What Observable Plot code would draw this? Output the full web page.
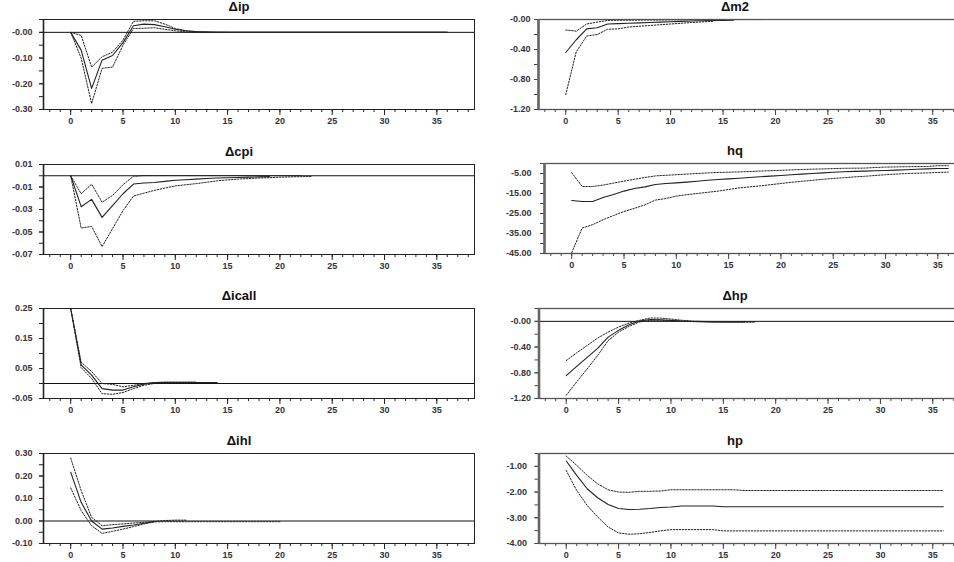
<!DOCTYPE html>
<html><head><meta charset="utf-8">
<script src="https://cdn.jsdelivr.net/npm/d3@7"></script>
<script src="https://cdn.jsdelivr.net/npm/@observablehq/plot@0.6"></script>
<style>
body{margin:0;background:#fff;}
#chart{position:relative;width:954px;height:562px;overflow:hidden;font-family:"Liberation Sans",Arial,sans-serif;background:#fff;}
.title{position:absolute;width:240px;text-align:center;font-weight:bold;font-size:13px;line-height:14px;color:#111;}
.panel{position:absolute;}
</style></head><body><div id="chart"></div><script>
// horizon axis
const xDomain = [-2.6, 38.6];
const xMajorTicks = [0, 5, 10, 15, 20, 25, 30, 35];
const xMinorTicks = d3.range(-2, 39);

// Δip
const ipMain = [0.000,-0.069,-0.218,-0.108,-0.090,-0.040,0.026,0.032,0.030,0.022,0.012,0.006,0.003,0.002,0.001,0.001,0.001,0.001,0.001,0.001,0.001,0.001,0.001,0.001,0.001,0.001,0.001,0.001,0.001,0.001,0.001,0.001,0.001,0.001,0.001,0.001,0.001];
const ipUpper = [0.000,-0.012,-0.135,-0.095,-0.077,-0.030,0.043,0.045,0.045,0.032,0.015,0.006,0.002,0.000,0.000,0.000];
const ipLower = [0.000,-0.100,-0.277,-0.140,-0.135,-0.050,0.015,0.016,0.018,0.012,0.006,0.002,0.000,0.000];
const ipYTicks = [-0.30,-0.25,-0.20,-0.15,-0.10,-0.05,0.00,0.05];
const ipLabelVals = [-0.30,-0.20,-0.10,0.00];
const ipLabelText = ["-0.30","-0.20","-0.10","-0.00"];

// Δm2
const m2Main = [-0.44,-0.27,-0.125,-0.11,-0.06,-0.055,-0.05,-0.045,-0.04,-0.035,-0.03,-0.025,-0.02,-0.017,-0.014,-0.012,-0.010];
const m2Upper = [-0.14,-0.155,-0.06,-0.035,-0.013,-0.01,-0.009,-0.008,-0.007,-0.006,-0.005,-0.004,-0.003,-0.003,-0.002,-0.002,-0.001,-0.001,-0.001,-0.001];
const m2Lower = [-1.00,-0.43,-0.22,-0.20,-0.13,-0.125,-0.10,-0.09,-0.08,-0.07,-0.06,-0.05,-0.04,-0.032,-0.025];
const m2YTicks = [-1.2,-1.0,-0.8,-0.6,-0.4,-0.2,0.0];
const m2LabelVals = [-1.2,-0.8,-0.4,0.0];
const m2LabelText = ["-1.20","-0.80","-0.40","-0.00"];

// Δcpi
const cpiMain = [0,-0.0275,-0.021,-0.037,-0.0265,-0.016,-0.0074,-0.0065,-0.006,-0.005,-0.004,-0.0035,-0.003,-0.0025,-0.002,-0.0018,-0.0015,-0.0012,-0.001,-0.0008];
const cpiUpper = [0,-0.016,-0.0075,-0.0235,-0.0175,-0.008,-0.0005,0.0002,0.0002,0.0002,0.0002,0.0002,0.0002,0.0002,0.0002,0.0002,0.0002,0.0002,0.0002,0.0001,0.0001,0.0001,0.0001];
const cpiLower = [0,-0.0465,-0.045,-0.063,-0.047,-0.031,-0.018,-0.0155,-0.013,-0.011,-0.009,-0.008,-0.007,-0.0058,-0.0045,-0.0037,-0.003,-0.0025,-0.002,-0.0017,-0.0013,-0.001,-0.0008,-0.0006];
const cpiYTicks = [-0.07,-0.06,-0.05,-0.04,-0.03,-0.02,-0.01,0.00,0.01];
const cpiLabelVals = [-0.07,-0.05,-0.03,-0.01,0.01];
const cpiLabelText = ["-0.07","-0.05","-0.03","-0.01","0.01"];

// hq
const hqMain = [-18.5,-19.0,-19.0,-17.0,-15.5,-13.8,-12.5,-11.7,-10.5,-10.0,-9.7,-9.3,-8.9,-8.4,-8.0,-7.7,-7.4,-7.0,-6.6,-6.3,-6.0,-5.6,-5.3,-5.0,-4.7,-4.4,-4.1,-3.95,-3.8,-3.65,-3.5,-3.3,-3.1,-2.9,-2.7,-2.5,-2.5];
const hqUpper = [-4.6,-11.5,-11.5,-10.8,-9.8,-8.8,-7.9,-7.0,-6.2,-5.9,-5.6,-5.3,-5.0,-4.7,-4.5,-4.35,-4.2,-4.0,-3.8,-3.6,-3.4,-3.2,-3.0,-2.85,-2.7,-2.55,-2.4,-2.35,-2.3,-2.0,-1.8,-1.7,-1.6,-1.55,-1.5,-1.1,-1.1];
const hqLower = [-44.6,-32.3,-30.6,-28.1,-26.0,-24.0,-22.4,-20.7,-18.3,-17.5,-16.3,-15.6,-15.0,-14.4,-13.8,-13.0,-12.2,-11.7,-11.2,-10.6,-10.0,-9.4,-8.9,-8.4,-7.9,-7.5,-7.1,-6.7,-6.4,-6.0,-5.6,-5.3,-5.0,-4.85,-4.7,-4.5,-4.3];
const hqYTicks = [-45,-40,-35,-30,-25,-20,-15,-10,-5,0];
const hqLabelVals = [-45,-35,-25,-15,-5];
const hqLabelText = ["-45.00","-35.00","-25.00","-15.00","-5.00"];

// Δicall
const icallMain = [0.25,0.062,0.028,-0.017,-0.022,-0.022,-0.011,-0.002,0.003,0.003,0.003,0.003,0.003,0.003,0.003];
const icallUpper = [0.25,0.071,0.040,0.000,-0.003,-0.011,-0.006,0.000,0.003,0.005,0.005,0.005,0.005];
const icallLower = [0.25,0.053,0.017,-0.034,-0.036,-0.030,-0.017,-0.006,0.000,0.002,0.003,0.003,0.003];
const icallYTicks = [-0.05,0.00,0.05,0.10,0.15,0.20,0.25];
const icallLabelVals = [-0.05,0.05,0.15,0.25];
const icallLabelText = ["-0.05","0.05","0.15","0.25"];

// Δhp
const hpdMain = [-0.845,-0.70,-0.56,-0.42,-0.245,-0.14,-0.052,0.005,0.030,0.026,0.016,0.005,-0.002,-0.006,-0.010,-0.010,-0.010,-0.010];
const hpdUpper = [-0.61,-0.49,-0.375,-0.26,-0.167,-0.089,-0.026,0.016,0.052,0.050,0.036,0.018,0.005,0.000,-0.003,-0.005,-0.006,-0.006,-0.006];
const hpdLower = [-1.15,-0.94,-0.74,-0.53,-0.30,-0.167,-0.078,-0.010,0.016,0.016,0.010,0.003,-0.003,-0.006,-0.010,-0.012,-0.012,-0.012,-0.012];
const hpdYTicks = [-1.2,-1.0,-0.8,-0.6,-0.4,-0.2,0.0,0.2];
const hpdLabelVals = [-1.2,-0.8,-0.4,0.0];
const hpdLabelText = ["-1.20","-0.80","-0.40","-0.00"];

// Δihl
const ihlMain = [0.217,0.083,0.000,-0.036,-0.031,-0.024,-0.018,-0.010,-0.003];
const ihlUpper = [0.280,0.135,0.016,-0.021,-0.016,-0.013,-0.009,-0.006,-0.002,0.002,0.004,0.004];
const ihlLower = [0.147,0.046,-0.021,-0.055,-0.046,-0.036,-0.025,-0.013,-0.004,-0.003,-0.003,-0.003,-0.003,-0.003,-0.003,-0.003,-0.003,-0.003,-0.003,-0.003,-0.003];
const ihlYTicks = [-0.10,-0.05,0.00,0.05,0.10,0.15,0.20,0.25,0.30];
const ihlLabelVals = [-0.10,0.00,0.10,0.20,0.30];
const ihlLabelText = ["-0.10","0.00","0.10","0.20","0.30"];

// hp
const hpMain = [-0.79,-1.35,-1.87,-2.22,-2.48,-2.64,-2.68,-2.67,-2.64,-2.60,-2.58,-2.54,-2.54,-2.54,-2.54,-2.57,-2.57,-2.57,-2.57,-2.57,-2.57,-2.57,-2.57,-2.57,-2.57,-2.57,-2.57,-2.57,-2.57,-2.57,-2.57,-2.57,-2.57,-2.57,-2.57,-2.57,-2.57];
const hpUpper = [-0.60,-0.96,-1.35,-1.68,-1.91,-2.00,-2.01,-1.97,-1.97,-1.96,-1.91,-1.91,-1.91,-1.91,-1.91,-1.91,-1.91,-1.94,-1.94,-1.94,-1.94,-1.94,-1.94,-1.94,-1.94,-1.94,-1.94,-1.94,-1.94,-1.94,-1.94,-1.94,-1.94,-1.94,-1.94,-1.94,-1.94];
const hpLower = [-1.16,-1.94,-2.52,-2.97,-3.36,-3.59,-3.64,-3.62,-3.57,-3.51,-3.46,-3.46,-3.46,-3.46,-3.46,-3.51,-3.51,-3.51,-3.51,-3.51,-3.51,-3.51,-3.51,-3.51,-3.51,-3.51,-3.51,-3.51,-3.51,-3.51,-3.51,-3.51,-3.51,-3.51,-3.51,-3.51,-3.51];
const hpYTicks = [-4.0,-3.5,-3.0,-2.5,-2.0,-1.5,-1.0,-0.5];
const hpLabelVals = [-4.0,-3.0,-2.0,-1.0];
const hpLabelText = ["-4.00","-3.00","-2.00","-1.00"];

const panels = [
  {title:"Δip", col:0, top:19, ml:43, w:477, gap:7, main:ipMain, upper:ipUpper, lower:ipLower, y:[-0.30,0.05], yt:ipYTicks, lv:ipLabelVals, lt:ipLabelText, zero:true},
  {title:"Δm2", col:1, top:19, ml:61, w:493, gap:4, main:m2Main, upper:m2Upper, lower:m2Lower, y:[-1.2,0], yt:m2YTicks, lv:m2LabelVals, lt:m2LabelText, zero:false},
  {title:"Δcpi", col:0, top:164, ml:43, w:477, gap:7, main:cpiMain, upper:cpiUpper, lower:cpiLower, y:[-0.07,0.01], yt:cpiYTicks, lv:cpiLabelVals, lt:cpiLabelText, zero:true},
  {title:"hq", col:1, top:163, ml:67, w:498, gap:9, main:hqMain, upper:hqUpper, lower:hqLower, y:[-45,0], yt:hqYTicks, lv:hqLabelVals, lt:hqLabelText, zero:false},
  {title:"Δicall", col:0, top:308, ml:43, w:477, gap:7, main:icallMain, upper:icallUpper, lower:icallLower, y:[-0.05,0.25], yt:icallYTicks, lv:icallLabelVals, lt:icallLabelText, zero:true},
  {title:"Δhp", col:1, top:308, ml:61.5, w:493, gap:4, main:hpdMain, upper:hpdUpper, lower:hpdLower, y:[-1.2,0.2], yt:hpdYTicks, lv:hpdLabelVals, lt:hpdLabelText, zero:true},
  {title:"Δihl", col:0, top:453, ml:43, w:477, gap:7, main:ihlMain, upper:ihlUpper, lower:ihlLower, y:[-0.10,0.30], yt:ihlYTicks, lv:ihlLabelVals, lt:ihlLabelText, zero:true},
  {title:"hp", col:1, top:453, ml:61.5, w:493, gap:8, main:hpMain, upper:hpUpper, lower:hpLower, y:[-4.0,-0.5], yt:hpYTicks, lv:hpLabelVals, lt:hpLabelText, zero:false}
];

const chart = document.getElementById("chart");
const MT = 4, FH = 90, MB = 22;

for (const p of panels) {
  const left = p.col === 0;
  const ink = left ? "#222" : "#444";
  const fig = Plot.plot({
    width: p.w,
    height: MT + FH + MB,
    marginTop: MT, marginBottom: MB, marginLeft: p.ml, marginRight: left ? 3 : 0,
    x: {domain: xDomain, axis: null},
    y: {domain: p.y, axis: null},
    style: {fontFamily: '"Liberation Sans", Arial, sans-serif', fontSize: "9px", fontWeight: "bold", color: "#33333d", overflow: "visible", maxWidth: "none", background: "transparent"},
    marks: [
      Plot.axisY({ticks: p.yt, tickSize: 4, tickFormat: () => "", label: null, stroke: ink}),
      Plot.axisY({ticks: p.lv, tickSize: 4, tickPadding: p.gap, label: null, stroke: ink,
        tickFormat: d => p.lt[p.lv.indexOf(d)], fill: "#33333d"}),
      Plot.axisX({ticks: xMinorTicks, tickSize: 3, tickFormat: () => "", label: null, stroke: ink}),
      Plot.axisX({ticks: xMajorTicks, tickSize: 6, tickPadding: 2, label: null, stroke: ink,
        tickFormat: d => String(d), fill: "#33333d"}),
      p.zero ? Plot.ruleY([0], {stroke: "#111", strokeWidth: 1}) : null,
      Plot.line(p.upper, {x: (d, i) => i, y: d => d, stroke: "#222", strokeWidth: 1, strokeDasharray: "1.5,1.5"}),
      Plot.line(p.lower, {x: (d, i) => i, y: d => d, stroke: "#222", strokeWidth: 1, strokeDasharray: "1.5,1.5"}),
      Plot.line(p.main, {x: (d, i) => i, y: d => d, stroke: "#222", strokeWidth: 1.1}),
      Plot.frame({stroke: left ? "#222" : "#555", strokeWidth: left ? 1 : 1.3}),
      Plot.ruleX([xDomain[0]], {stroke: left ? "#222" : "#666", strokeWidth: left ? 1.6 : 2.6})
    ]
  });
  const div = document.createElement("div");
  div.className = "panel";
  div.style.left = (left ? 0 : 477) + "px";
  div.style.top = (p.top - MT) + "px";
  div.style.width = p.w + "px";
  div.appendChild(fig);
  chart.appendChild(div);

  const t = document.createElement("div");
  t.className = "title";
  t.textContent = p.title;
  t.style.left = ((left ? 239 : 735) - 120) + "px";
  t.style.top = (p.top - 19) + "px";
  chart.appendChild(t);
}
</script></body></html>
